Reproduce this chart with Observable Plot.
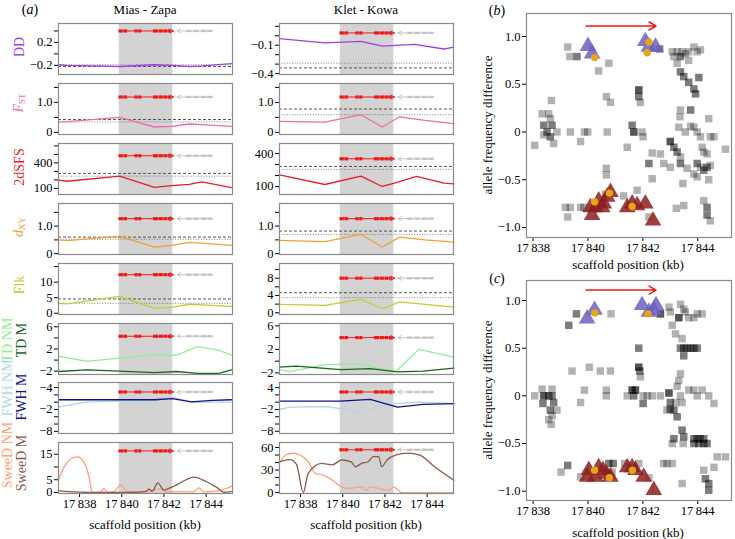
<!DOCTYPE html>
<html><head><meta charset="utf-8">
<script src="https://cdn.jsdelivr.net/npm/d3@7"></script>
<script src="https://cdn.jsdelivr.net/npm/@observablehq/plot@0.6"></script>
<style>
body{margin:0;background:#fff}
#fig{position:relative;width:735px;height:539px;font-family:"Liberation Serif","Times New Roman",serif;color:#000;overflow:hidden;background:#fff}
#fig svg{position:absolute;overflow:visible}
.rot{position:absolute;transform:translate(-50%,-50%) rotate(-90deg);white-space:nowrap;font-size:14px;line-height:1}
.txt{position:absolute;transform:translate(-50%,-50%);white-space:nowrap;font-size:13px;line-height:1}
sub{font-size:9px;vertical-align:-2px}
</style></head><body><div id="fig"></div>
<script>
// ---------- shared ----------
const xTicks = [17838, 17840, 17842, 17844];
const shadeRange = [17839.88, 17842.42];
const redExons = [[17839.85,17840.05],[17840.08,17840.25],[17840.6,17840.75],[17840.78,17840.93],[17841.48,17841.72],[17841.75,17841.95],[17841.98,17842.15],[17842.18,17842.32]];
const redGene = [17839.85, 17842.45];
const grayExons = [[17843.05,17843.3],[17843.4,17843.65],[17843.75,17844.0],[17844.05,17844.3]];
const grayGene = [17844.3, 17842.62];

// ---------- Mias - Zapa ----------
const winMZ = [17837.0, 17837.4, 17839.9, 17841.55, 17842.35, 17843.2, 17843.8, 17845.2];
const ddMZ  = [-0.19, -0.2, -0.22, -0.19, -0.2, -0.22, -0.21, -0.17];
const fstMZ = [0.35, 0.36, 0.5, 0.18, 0.2, 0.28, 0.26, 0.2];
const sfsMZ = [196, 184, 244, 112, 132, 148, 176, 108];
const dxyMZ = [0.5, 0.47, 0.63, 0.24, 0.3, 0.41, 0.38, 0.3];
const flkMZ = [3.2, 3.0, 5.4, 1.6, 1.9, 2.9, 2.7, 2.2];
const tdWinMZ = [17837.0, 17838.35, 17839.9, 17841.55, 17842.6, 17843.6, 17844.6, 17845.2];
const tdNmMZ  = [0.69, -0.25, 0.37, 1.0, 0.87, 2.44, 1.8, 0.87];
const tdMMZ   = [-2.06, -1.75, -2.0, -2.25, -2.06, -2.4, -2.4, -1.75];
const fwhWinMZ = [17837.0, 17838.3, 17839.9, 17841.55, 17842.4, 17843.3, 17844.3, 17845.2];
const fwhNmMZ  = [-1.3, 0.0, 0.3, 0.4, 1.4, 0.0, 0.0, 0.0];
const fwhMMZ   = [0.67, 0.67, 0.67, 0.67, 1.0, 0.1, 0.5, 0.67];
const swNmXMZ = [17837.0,17837.3,17837.6,17837.9,17838.2,17838.45,17838.6,17839.0,17839.15,17839.35,17839.65,17839.95,17840.2,17840.6,17841.2,17841.8,17842.1,17842.8,17843.4,17843.65,17843.9,17844.5,17845.2];
const swNmMZ  = [5, 10.5, 13.2, 14.0, 12.0, 6.0, 0, 0.2, 1.5, 0, 0.3, 3.0, 0.5, 0.2, 0.3, 1.4, 0.2, 0.3, 0.2, 1.8, 0.2, 0.5, 2.4];
const swMXMZ  = [17837.0,17837.5,17838.5,17840.5,17841.1,17841.3,17841.45,17841.7,17842.0,17842.2,17842.6,17843.0,17843.4,17844.0,17844.5,17844.85,17845.2];
const swMMZ   = [0.7, 0.3, 0, 0, 0.3, 1.3, 0.5, 3.8, 1.0, 1.5, 3.0, 4.8, 6.0, 4.3, 2.0, 0.1, 0.3];
const threshDashMZ = [-0.22, 0.43, 276, 0.6, 4.6];
const threshDotMZ  = [-0.19, 0.35, 244, 0.52, 3.2];
const arrowYMZ = [0.4, 1.18, 484, 1.27, 12.4, 4.3, 2.8, 16.3];

// ---------- Klet - Kowa ----------
const ddXKK  = [17837.0, 17839.15, 17840.86, 17841.87, 17843.4, 17844.8, 17845.27];
const ddKK   = [-0.03, -0.075, -0.06, -0.11, -0.09, -0.14, -0.12];
const winKK  = [17837.0, 17839.15, 17840.86, 17841.87, 17842.7, 17843.9, 17845.27];
const fstKK  = [0.37, 0.34, 0.59, 0.18, 0.52, 0.4, 0.29];
const dxyKK  = [0.48, 0.44, 0.7, 0.24, 0.6, 0.5, 0.42];
const flkKK  = [1.95, 1.7, 3.1, 0.93, 2.5, 1.95, 1.3];
const sfsXKK = [17837.0, 17839.15, 17840.86, 17841.87, 17842.45, 17843.5, 17844.8, 17845.27];
const sfsKK  = [206, 118, 194, 100, 130, 191, 130, 124];
const tdNmXKK = [17837.0, 17837.5, 17839.15, 17840.9, 17841.87, 17842.5, 17843.6, 17845.27];
const tdNmKK  = [-1.43, -1.8, -0.6, -0.46, -1.4, -1.8, 2.0, 0.7];
const tdMXKK  = [17837.0, 17837.8, 17839.9, 17841.3, 17842.6, 17843.8, 17845.27];
const tdMKK   = [-1.0, -0.83, -1.43, -1.26, -1.83, -1.7, -1.2];
const fwhMXKK = [17837.0, 17839.9, 17841.3, 17842.6, 17843.8, 17845.27];
const fwhMKK  = [0.3, 0.3, 0.76, -1.36, -0.6, -0.4];
const fwhNmXKK = [17837.0, 17837.5, 17839.3, 17840.8, 17842.0, 17843.6, 17845.27];
const fwhNmKK  = [-2.0, -1.36, -1.2, -2.7, -0.6, 0.0, -0.4];
const swNmXKK = [17837.0,17837.3,17837.6,17837.9,17838.36,17838.7,17839.1,17839.5,17839.95,17840.3,17840.9,17841.1,17841.3,17842.2,17842.4,17842.8,17843.5,17845.27];
const swNmKK  = [39, 50, 52.4, 51, 41, 25.5, 23, 16.5, 7.5, 5.4, 7.5, 2.7, 7.5, 3, 7.5, 0, 0, 0];
const swMXKK  = [17837.0,17837.5,17837.8,17838.13,17838.36,17839.0,17839.5,17839.95,17840.4,17840.6,17840.9,17841.2,17841.45,17841.7,17841.85,17842.1,17842.5,17843.1,17843.65,17844.35,17845.27];
const swMKK   = [41, 44, 38, 0, 25.5, 39, 37, 43.4, 41, 34.4, 39, 41, 48, 48, 34.4, 43.4, 50, 52.5, 50, 34.4, 16.5];
const threshDashKK = [-0.34, 0.78, 282, 0.82, 4.65];
const threshDotKK  = [-0.29, 0.59, 255, 0.7, 3.5];
const arrowYKK = [0.03, 1.18, 352, 1.27, 8, 4.0, 2.8, 57];

// ---------- scatter (b) ----------
const grayB = [[17838.06,-0.14],[17838.33,0.19],[17838.57,0.19],[17838.67,0.33],[17838.63,0.14],[17838.39,0.07],[17838.39,0.07],[17838.69,0.07],[17838.69,0.07],[17838.51,0],[17838.51,0],[17838.87,0],[17838.39,-0.03],[17838.63,-0.05],[17838.63,-0.05],[17838.75,-0.12],
[17839.26,0.89],[17839.34,0.79],[17839.6,0.79],[17839.6,0.79],[17839.18,-0.79],[17839.36,-0.79],[17839.26,-0.89],[17839.36,0],[17839.87,0],[17839.99,0],[17839.73,-0.1],[17839.73,-0.79],[17839.85,-0.79],
[17840.39,0.64],[17840.76,0.72],[17840.67,0.37],[17840.82,0.31],[17840.7,0],[17840.67,-0.38],[17840.67,-0.45],[17840.64,-0.65],[17841.3,-0.67],[17841.43,-0.16],[17841.61,0.07],[17841.61,0.07],[17841.67,0],[17841.67,0],[17841.67,0],
[17841.85,0.44],[17841.85,0.44],[17841.85,0.44],[17841.85,0.37],[17841.85,0.37],[17841.91,0.31],[17841.79,-0.61],[17841.97,0],[17842.01,-0.05],[17842.22,-0.33],[17842.22,-0.33],[17842.34,-0.49],[17842.34,-0.22],[17842.61,0.87],[17842.61,0.87],[17842.22,-0.89],[17842.64,-0.23],[17842.76,-0.33],[17843.0,-0.37],
[17843.07,0.84],[17843.25,0.84],[17843.43,0.84],[17843.55,0.82],[17843.67,0.84],[17843.86,0.89],[17843.98,0.84],[17844.1,0.86],[17843.13,0.79],[17843.37,0.79],[17843.37,0.79],[17843.67,0.75],[17843.25,0.72],
[17843.37,0.63],[17843.37,0.63],[17843.49,0.58],[17843.49,0.58],[17843.67,0.52],[17843.67,0.52],[17844.04,0.57],[17844.04,0.57],[17843.86,0.45],[17843.86,0.45],[17843.92,0.4],[17843.92,0.4],[17843.74,0.23],[17843.74,0.23],[17843.37,0.23],[17843.35,0.16],[17843.31,0.05],[17843.55,0],[17843.74,0.06],[17843.86,0.05],
[17843.0,-0.1],[17843.0,-0.1],[17843.0,-0.1],[17843.13,-0.16],[17843.13,-0.16],[17843.25,-0.21],[17843.25,-0.21],[17843.37,-0.26],[17843.37,-0.33],[17843.37,-0.33],[17843.61,-0.38],[17843.98,0],[17844.1,-0.05],[17844.16,-0.16],[17844.22,-0.21],[17844.34,-0.23],[17844.4,0.14],[17844.46,-0.05],[17844.59,-0.05],[17845.01,-0.18],
[17843.98,-0.33],[17843.98,-0.33],[17844.1,-0.37],[17844.22,-0.4],[17844.22,-0.4],[17844.34,-0.37],[17844.34,-0.37],[17844.46,-0.35],[17843.86,-0.44],[17843.98,-0.47],[17844.4,-0.5],[17843.46,-0.54],[17843.49,-0.77],[17843.22,-0.8],[17844.22,-0.72],[17844.34,-0.79],[17844.34,-0.79],[17844.34,-0.87],[17844.34,-0.87],[17844.46,-0.93]];
const upB = [[17840.0,0.9],[17840.15,0.82],[17842.09,0.95],[17842.22,0.89],[17842.46,0.89]];
const downB = [[17840.09,-0.79],[17840.27,-0.79],[17840.15,-0.87],[17840.39,-0.72],[17840.52,-0.79],[17840.58,-0.75],[17840.7,-0.68],[17840.82,-0.63],[17841.43,-0.79],[17841.61,-0.75],[17841.79,-0.77],[17842.09,-0.75],[17842.37,-0.93]];
const orangeB = [[17840.24,0.78],[17842.22,0.94],[17842.16,0.83],[17840.24,-0.73],[17840.78,-0.64],[17841.61,-0.78]];

// ---------- scatter (c) ----------
const grayC = [[17838.06,0],[17838.33,0.07],[17838.39,0],[17838.39,0],[17838.39,0],[17838.36,-0.08],[17838.36,-0.08],[17838.57,0],[17838.57,0],[17838.69,0.07],[17838.69,0],[17838.69,0],[17838.75,-0.07],[17838.75,-0.07],[17838.63,-0.15],[17838.63,-0.15],[17838.69,-0.21],[17838.57,-0.25],[17838.66,-0.3],[17838.87,-0.15],
[17839.02,-0.8],[17839.26,-0.73],[17839.26,-0.73],[17839.3,0.74],[17839.3,0.74],[17839.42,0.26],[17839.73,-0.07],[17839.87,0.06],[17840.05,0.3],[17840.45,0.26],[17840.82,0.26],[17840.67,0.06],[17840.67,0],[17839.58,0.86],[17839.58,0.86],[17839.73,-0.85],[17840.84,0.86],
[17840.76,-0.71],[17840.76,-0.71],[17840.92,-0.71],[17840.92,-0.71],[17840.88,-0.8],[17841.33,-0.71],[17841.43,0],[17841.61,0.06],[17841.61,0.06],[17841.61,0.06],[17841.73,0.06],[17841.73,0.06],[17841.73,0.06],[17841.67,0],[17841.67,0],
[17841.85,0.5],[17841.85,0.5],[17841.85,0.3],[17841.85,0.3],[17841.85,0.3],[17841.89,0.26],[17841.89,0.26],[17841.91,0.2],[17842.01,-0.08],[17842.01,-0.08],[17842.01,0],[17842.16,0],[17842.34,0],[17842.64,0],[17841.85,-0.71],[17842.22,-0.86],[17842.64,0.86],[17842.64,0.86],[17842.64,0.86],[17842.76,-0.71],[17842.88,-0.71],
[17842.95,0.93],[17843.0,0.88],[17843.07,0.74],[17843.31,0.82],[17843.31,0.82],[17843.31,0.82],[17843.37,0.96],[17843.49,0.91],[17843.55,0.88],[17843.67,0.82],[17843.86,0.82],[17843.98,0.86],[17844.16,0.86],[17843.19,0.65],[17843.43,0.6],
[17843.37,0.5],[17843.37,0.5],[17843.49,0.5],[17843.49,0.5],[17843.61,0.5],[17843.61,0.5],[17843.74,0.5],[17843.74,0.5],[17843.86,0.5],[17843.86,0.5],[17843.98,0.5],[17843.98,0.5],[17843.49,0.42],[17843.49,0.42],[17843.37,0.23],[17843.31,0.16],[17843.25,0.1],[17843.37,0],[17843.43,-0.07],
[17842.95,0.03],[17842.95,0.03],[17842.95,0.03],[17843.0,-0.07],[17843.0,-0.07],[17843.0,-0.14],[17843.0,-0.14],[17843.13,-0.15],[17843.13,-0.15],[17843.25,-0.22],[17843.25,-0.22],[17843.13,-0.45],[17843.13,-0.45],[17843.07,-0.5],[17843.43,-0.36],[17843.43,-0.36],[17843.49,-0.43],[17843.49,-0.43],[17843.47,-0.5],
[17843.67,0.06],[17843.86,0.06],[17843.98,0],[17844.16,0.06],[17844.4,0],[17844.59,-0.08],
[17843.86,-0.45],[17843.86,-0.45],[17843.98,-0.45],[17843.98,-0.45],[17844.1,-0.45],[17844.1,-0.45],[17844.22,-0.45],[17844.22,-0.45],[17843.86,-0.5],[17843.86,-0.5],[17844.04,-0.5],[17844.04,-0.5],[17844.22,-0.5],[17844.22,-0.5],[17844.34,-0.5],[17844.34,-0.5],
[17844.59,-0.75],[17844.71,-0.64],[17845.01,-0.64],[17844.22,-0.78],[17843.43,-0.92],[17843.07,-0.71],[17844.28,-0.87],[17844.28,-0.87],[17844.4,-0.92],[17844.4,-0.92],[17844.4,-0.99],[17844.4,-0.99],[17843.19,-0.07],[17842.88,-0.15]];
const upC = [[17839.97,0.81],[17840.24,0.9],[17841.97,0.95],[17842.22,0.88],[17842.48,0.95],[17842.4,0.9]];
const downC = [[17840.03,-0.78],[17839.97,-0.85],[17840.27,-0.85],[17840.39,-0.75],[17840.55,-0.78],[17840.67,-0.82],[17840.82,-0.85],[17841.43,-0.75],[17841.61,-0.75],[17841.73,-0.78],[17842.03,-0.85],[17842.4,-0.99]];
const orangeC = [[17840.25,0.87],[17842.19,0.86],[17840.24,-0.78],[17840.78,-0.86],[17841.62,-0.78]];
const afdTicks = [-1, -0.5, 0, 0.5, 1];
const afdLabels = ["−1.0", "−0.5", "0", "0.5", "1.0"];

// ---------- drawing ----------
const fig = document.getElementById("fig");
const FONT = "Liberation Serif, Times New Roman, serif";
const COL = {dd:"#a23ee8", fst:"#ee6aae", sfs:"#e41f26", dxy:"#f2a035", flk:"#c9c934", tdNm:"#90ee90", tdM:"#17661a",
  fwhNm:"#add8e6", fwhM:"#10108b", swNm:"#ffa07a", swM:"#8b5a4b"};
const fmtKb = d => "17\u2009" + String(d).slice(2);
const XD = [17837.0, 17845.25];
const tops = [23, 83, 143, 203, 262.5, 322.5, 382, 442];
const FH = 51, FW = 174;

function lab(ticks, labels) {
  return d => { const i = ticks.findIndex(t => Math.abs(t - d) < 1e-9); return i >= 0 && labels[i] != null ? labels[i] : ""; };
}

function panel(left, idx, cfg, bottom) {
  const mL = 40, mR = 4, mT = 4, mB = bottom ? 36 : 4;
  const yd = cfg.yDomain;
  const marks = [
    Plot.rect([shadeRange], {x1: d => d[0], x2: d => d[1], y1: yd[0], y2: yd[1], fill: "#d3d3d3"})
  ];
  if (cfg.dash != null) marks.push(Plot.ruleY([cfg.dash], {stroke: "#444", strokeDasharray: "3,2", strokeWidth: 0.9}));
  if (cfg.dot != null) marks.push(Plot.ruleY([cfg.dot], {stroke: "#777", strokeDasharray: "1,1.6", strokeWidth: 0.9}));
  for (const s of cfg.series) {
    const data = s.x.map((x, i) => ({x, y: s.y[i]}));
    marks.push(Plot.line(data, {x: "x", y: "y", stroke: s.color, strokeWidth: 1.3, curve: s.curve || "linear"}));
  }
  const ay = cfg.arrowY;
  marks.push(
    Plot.arrow([redGene], {x1: d => d[0], x2: d => d[1], y1: ay, y2: ay, stroke: "#f01818", strokeWidth: 1, headLength: 6}),
    Plot.link(redExons, {x1: d => d[0], x2: d => d[1], y1: ay, y2: ay, stroke: "#f01818", strokeWidth: 3.2}),
    Plot.arrow([grayGene], {x1: d => d[0], x2: d => d[1], y1: ay, y2: ay, stroke: "#c4c4c4", strokeWidth: 1, headLength: 6}),
    Plot.link(grayExons, {x1: d => d[0], x2: d => d[1], y1: ay, y2: ay, stroke: "#c4c4c4", strokeWidth: 2.4}),
    Plot.frame({stroke: "#8a8a8a", strokeWidth: 1.2})
  );
  const svg = Plot.plot({
    width: FW + mL + mR, height: FH + mT + mB,
    marginLeft: mL, marginRight: mR, marginTop: mT, marginBottom: mB,
    style: {fontFamily: FONT, fontSize: "12.5px", background: "transparent", color: "#000"},
    x: bottom ? {domain: XD, ticks: xTicks, tickFormat: fmtKb, tickSize: 4, tickPadding: 2, label: null}
              : {domain: XD, axis: null},
    y: {domain: yd, ticks: cfg.ticks, tickFormat: lab(cfg.ticks, cfg.labels), tickSize: 4, tickPadding: 2, label: null},
    marks
  });
  svg.style.left = (left - mL) + "px";
  svg.style.top = (tops[idx] - mT) + "px";
  fig.appendChild(svg);
}

function scatter(top, bottom, yd, gray, up, down, orange) {
  const left = 526, FWs = 205, mL = 40, mR = 4, mT = 4, mB = 22;
  const svg = Plot.plot({
    width: FWs + mL + mR, height: (bottom - top) + mT + mB,
    marginLeft: mL, marginRight: mR, marginTop: mT, marginBottom: mB,
    style: {fontFamily: FONT, fontSize: "12.5px", background: "transparent", color: "#000"},
    x: {domain: [17837.76, 17845.23], ticks: xTicks, tickFormat: fmtKb, tickSize: 4, tickPadding: 2, label: null},
    y: {domain: yd, ticks: afdTicks, tickFormat: lab(afdTicks, afdLabels), tickSize: 4, tickPadding: 2, label: null},
    marks: [
      Plot.dot(gray, {x: d => d[0], y: d => d[1], symbol: "square", r: 4.2, fill: "#000", fillOpacity: 0.3, stroke: "none"}),
      Plot.dot(up, {x: d => d[0], y: d => d[1], symbol: "triangle", r: 6.2, fill: "#6c5fbf", fillOpacity: 0.85, stroke: "none"}),
      Plot.dot(down, {x: d => d[0], y: d => d[1], symbol: "triangle", r: 6.2, fill: "#8c1f1f", fillOpacity: 0.85, stroke: "none"}),
      Plot.dot(orange, {x: d => d[0], y: d => d[1], r: 3.7, fill: "#e8a417", stroke: "none"}),
      Plot.arrow([redGene], {x1: 17839.93, x2: 17842.48, y1: 1.11, y2: 1.11, stroke: "#f01818", strokeWidth: 1.5, headLength: 8}),
      Plot.frame({stroke: "#8a8a8a", strokeWidth: 1.2})
    ]
  });
  svg.style.left = (left - mL) + "px";
  svg.style.top = (top - mT) + "px";
  fig.appendChild(svg);
}

// panel configs
const panelsMZ = [
  {yDomain: [-0.36, 0.53], ticks: [-0.2, 0, 0.2, 0.4], labels: ["−0.2", null, "0.2", null], series: [{x: winMZ, y: ddMZ, color: COL.dd}]},
  {yDomain: [-0.07, 1.63], ticks: [0, 0.5, 1, 1.5], labels: ["0", null, "1.0", null], series: [{x: winMZ, y: fstMZ, color: COL.fst}]},
  {yDomain: [28, 628], ticks: [100, 200, 300, 400, 500, 600], labels: ["100", null, null, "400", null, null], series: [{x: winMZ, y: sfsMZ, color: COL.sfs}]},
  {yDomain: [-0.03, 1.82], ticks: [0, 0.5, 1, 1.5], labels: ["0", null, "1.0", null], series: [{x: winMZ, y: dxyMZ, color: COL.dxy}]},
  {yDomain: [-0.4, 16], ticks: [0, 5, 10, 15], labels: ["0", "5", "10", null], series: [{x: winMZ, y: flkMZ, color: COL.flk}]},
  {yDomain: [-2.6, 6.6], ticks: [-2, 0, 2, 4, 6], labels: ["−2", null, "2", null, "6"], series: [{x: tdWinMZ, y: tdNmMZ, color: COL.tdNm}, {x: tdWinMZ, y: tdMMZ, color: COL.tdM}]},
  {yDomain: [-8.6, 5.4], ticks: [-8, -6, -4, -2, 0, 2, 4], labels: ["−8", null, null, "−2", null, null, "−4"], series: [{x: fwhWinMZ, y: fwhNmMZ, color: COL.fwhNm}, {x: fwhWinMZ, y: fwhMMZ, color: COL.fwhM}]},
  {yDomain: [-0.4, 19.6], ticks: [0, 5, 10, 15], labels: ["0", "5", null, "15"], series: [{x: swNmXMZ, y: swNmMZ, color: COL.swNm, curve: "monotone-x"}, {x: swMXMZ, y: swMMZ, color: COL.swM, curve: "monotone-x"}]}
];
const panelsKK = [
  {yDomain: [-0.41, 0.13], ticks: [-0.4, -0.3, -0.2, -0.1, 0, 0.1], labels: ["−0.4", null, null, "−0.1", null, null], series: [{x: ddXKK, y: ddKK, color: COL.dd}]},
  {yDomain: [-0.07, 1.63], ticks: [0, 0.5, 1, 1.5], labels: ["0", null, "1.0", null], series: [{x: winKK, y: fstKK, color: COL.fst}]},
  {yDomain: [27, 491], ticks: [100, 200, 300, 400], labels: ["100", null, null, "400"], series: [{x: sfsXKK, y: sfsKK, color: COL.sfs}]},
  {yDomain: [-0.03, 1.82], ticks: [0, 0.5, 1, 1.5], labels: ["0", null, "1.0", null], series: [{x: winKK, y: dxyKK, color: COL.dxy}]},
  {yDomain: [-0.4, 11.4], ticks: [0, 2, 4, 6, 8, 10], labels: ["0", null, "4", null, "8", null], series: [{x: winKK, y: flkKK, color: COL.flk}]},
  {yDomain: [-2.27, 6.4], ticks: [-2, 0, 2, 4, 6], labels: ["−2", null, "2", null, "6"], series: [{x: tdNmXKK, y: tdNmKK, color: COL.tdNm}, {x: tdMXKK, y: tdMKK, color: COL.tdM}]},
  {yDomain: [-8.6, 5.4], ticks: [-8, -6, -4, -2, 0, 2, 4], labels: ["−8", null, null, "−2", null, null, "4"], series: [{x: fwhNmXKK, y: fwhNmKK, color: COL.fwhNm}, {x: fwhMXKK, y: fwhMKK, color: COL.fwhM}]},
  {yDomain: [-1.3, 66.7], ticks: [0, 10, 20, 30, 40, 50, 60], labels: ["0", null, null, "30", null, null, "60"], series: [{x: swNmXKK, y: swNmKK, color: COL.swNm, curve: "monotone-x"}, {x: swMXKK, y: swMKK, color: COL.swM, curve: "monotone-x"}]}
];
panelsMZ.forEach((p, i) => { if (i < 5) { p.dash = threshDashMZ[i]; p.dot = threshDotMZ[i]; } p.arrowY = arrowYMZ[i]; panel(58, i, p, i === 7); });
panelsKK.forEach((p, i) => { if (i < 5) { p.dash = threshDashKK[i]; p.dot = threshDotKK[i]; } p.arrowY = arrowYKK[i]; panel(279, i, p, i === 7); });

scatter(13, 237, [-1.105, 1.241], grayB, upB, downB, orangeB);
scatter(280, 500, [-1.098, 1.21], grayC, upC, downC, orangeC);

// ---------- text ----------
function txt(html, x, y, cls, extra) {
  const d = document.createElement("div");
  d.className = cls; d.innerHTML = html; d.style.left = x + "px"; d.style.top = y + "px";
  if (extra) Object.assign(d.style, extra);
  fig.appendChild(d);
}
txt("(<i>a</i>)", 30, 10, "txt", {fontSize: "14px"});
txt("(<i>b</i>)", 497, 11, "txt", {fontSize: "14px"});
txt("(<i>c</i>)", 497, 279, "txt", {fontSize: "14px"});
txt("Mias - Zapa", 145, 9, "txt");
txt("Klet - Kowa", 366, 9, "txt");
txt("scaffold position (kb)", 145, 524, "txt");
txt("scaffold position (kb)", 366, 524, "txt");
txt("scaffold position (kb)", 628, 264, "txt");
txt("scaffold position (kb)", 628, 532, "txt");
txt("allele frequency difference", 487, 125, "rot", {fontSize: "13px"});
txt("allele frequency difference", 487, 390, "rot", {fontSize: "13px"});
txt("DD", 20, 47, "rot", {color: COL.dd});
txt("<i>F</i><sub>ST</sub>", 19, 103, "rot", {color: COL.fst});
txt("2dSFS", 20, 167, "rot", {color: COL.sfs});
txt("<i>d</i><sub>XY</sub>", 19, 227, "rot", {color: COL.dxy});
txt("Flk", 20, 285, "rot", {color: COL.flk});
txt("TD NM", 8, 340, "rot", {color: COL.tdNm});
txt("TD M", 22, 340, "rot", {color: COL.tdM});
txt("FWH NM", 8, 388, "rot", {color: COL.fwhNm});
txt("FWH M", 22, 397, "rot", {color: COL.fwhM});
txt("SweeD NM", 8, 455, "rot", {color: COL.swNm});
txt("SweeD M", 22, 463, "rot", {color: COL.swM});
</script></body></html>
